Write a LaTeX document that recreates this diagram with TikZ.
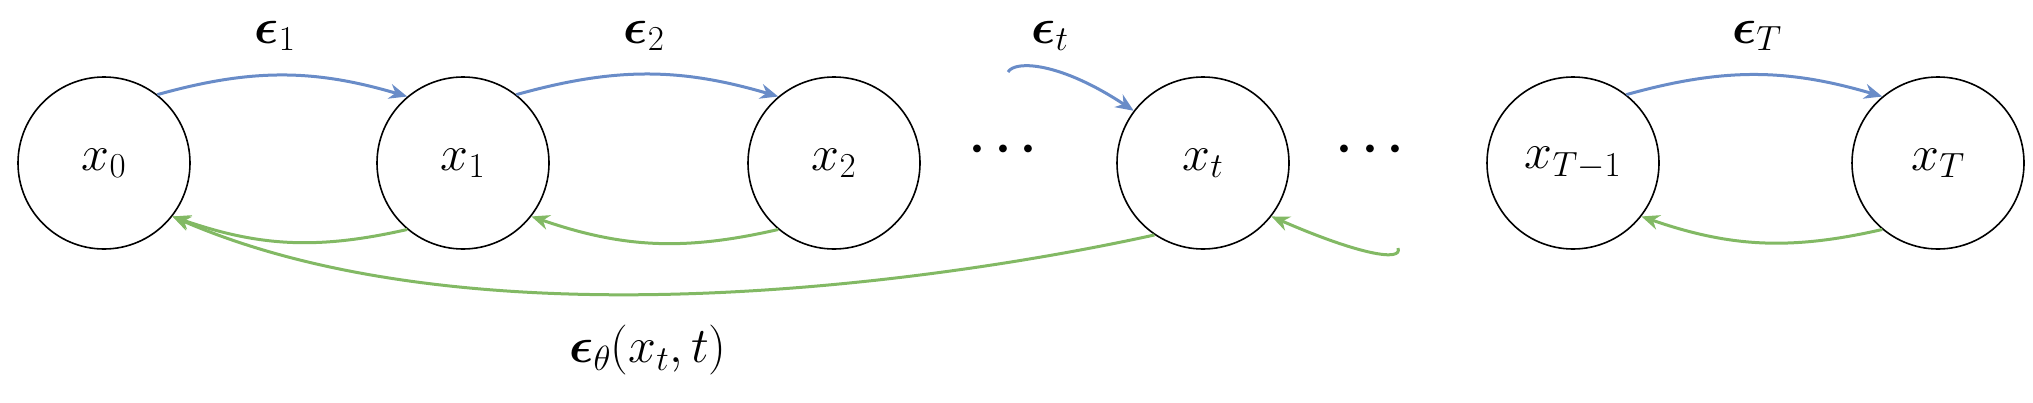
\RequirePackage{fix-cm}
\documentclass[tikz,border=0pt]{standalone}
\usepackage{amsmath}
\usepackage{bm}
\usetikzlibrary{arrows.meta}
\definecolor{fwdblue}{RGB}{105,140,200}
\definecolor{revgreen}{RGB}{130,185,100}
\tikzset{
  state/.style={draw=black, line width=1.6pt, circle, minimum size=172pt, inner sep=0pt, font=\fontsize{50}{56}\selectfont},
  fwd/.style={draw=fwdblue, line width=3pt, -{Stealth[length=18pt,width=15pt]}},
  rev/.style={draw=revgreen, line width=3pt, -{Stealth[length=18pt,width=15pt]}},
  lbl/.style={font=\fontsize{50}{56}\selectfont}
}
\begin{document}
\begin{tikzpicture}[x=1pt,y=-1pt]
 \useasboundingbox (0,0) rectangle (2033,402);

 % states
 \node[state] (x0) at (104,163) {$x_0$};
 \node[state] (x1) at (463,163) {$x_1$};
 \node[state] (x2) at (834,163) {$x_2$};
 \node[state] (xt) at (1203,163) {$x_t$};
 \node[state] (xTm) at (1573,163) {$x_{T-1}$};
 \node[state] (xT) at (1938,163) {$x_T$};

 \node[lbl] (d1) at (1008,150) {$\bm{\cdots}$};
 \node[lbl] (d2) at (1375,150) {$\bm{\cdots}$};

 % free ends of the stubs
 \coordinate (sin) at (1008,72);
 \coordinate (sout) at (1398,248);

 % forward steps
 \draw[fwd] (x0.52) to[bend left=16] (x1.130);
 \draw[fwd] (x1.52) to[bend left=16] (x2.130);
 \draw[fwd] (sin) .. controls (1015,60) and (1060,62) .. (xt.143);
 \draw[fwd] (xTm.52) to[bend left=16] (xT.130);

 % reverse steps
 \draw[rev] (x1.230) to[bend left=16] (x0.-38);
 \draw[rev] (x2.230) to[bend left=16] (x1.-38);
 \draw[rev] (sout) .. controls (1403,262) and (1360,255) .. (xt.-38);
 \draw[rev] (xT.230) to[bend left=16] (xTm.-38);
 \draw[rev] (xt.236) .. controls (950,280) and (480,350) .. (x0.-38);

 % labels
 \node[lbl] (e1) at (275,36) {$\bm{\epsilon}_1$};
 \node[lbl] (e2) at (644,36) {$\bm{\epsilon}_2$};
 \node[lbl] (et) at (1050,36) {$\bm{\epsilon}_t$};
 \node[lbl] (eT) at (1757,36) {$\bm{\epsilon}_T$};
 \node[lbl] (eth) at (648,350) {$\bm{\epsilon}_\theta(x_t,t)$};
\end{tikzpicture}
\end{document}
